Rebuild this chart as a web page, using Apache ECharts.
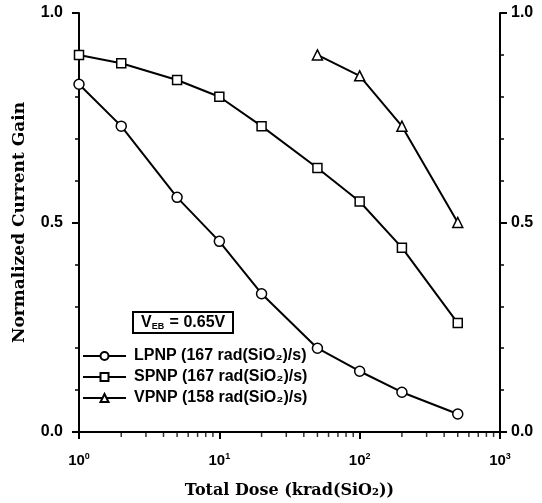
<!DOCTYPE html>
<html>
<head>
<meta charset="utf-8">
<script src="https://cdn.jsdelivr.net/npm/echarts@6/dist/echarts.min.js"></script>
<style>html,body{margin:0;padding:0;background:#fff;}#c{width:542px;height:503px;}</style>
</head>
<body>
<div id="c"></div>
<script>
var doseX = [1, 2, 5, 10, 20, 50, 100, 200, 500];
var lpnp = [0.83, 0.73, 0.56, 0.455, 0.33, 0.20, 0.145, 0.095, 0.043];
var spnp = [0.90, 0.88, 0.84, 0.80, 0.73, 0.63, 0.55, 0.44, 0.26];
var vpnpX = [50, 100, 200, 500];
var vpnp = [0.90, 0.85, 0.73, 0.50];
var seriesNames = ['LPNP (167 rad(SiO\u2082)/s)', 'SPNP (167 rad(SiO\u2082)/s)', 'VPNP (158 rad(SiO\u2082)/s)'];
var xMinorTicks = [2,3,4,5,6,7,8,9,20,30,40,50,60,70,80,90,200,300,400,500,600,700,800,900];
var xTitle = 'Total Dose (krad(SiO\u2082))';
var yTitle = 'Normalized Current Gain';
var boxText = ['V', 'EB', ' = 0.65V'];

function pairs(xs, ys) { return xs.map(function (x, i) { return [x, ys[i]]; }); }

var chart = echarts.init(document.getElementById('c'), null, { renderer: 'canvas' });
var sans = 'Liberation Sans';
var serif = 'DejaVu Serif';
var mk = { color: '#fff', borderColor: '#000', borderWidth: 1.5 };

function yAxisCfg(pos) {
  return {
    type: 'value', position: pos, min: 0, max: 1, interval: 0.5,
    axisLine: { show: true, lineStyle: { color: '#000', width: 2 } },
    axisTick: { show: true, length: 7, lineStyle: { color: '#000', width: 2 } },
    minorTick: { show: true, splitNumber: 5, length: 4, lineStyle: { color: '#000', width: 1.5 } },
    splitLine: { show: false },
    axisLabel: { color: '#000', fontFamily: sans, fontWeight: 'bold', fontSize: 16, margin: pos === 'left' ? 16 : 11,
      formatter: function (v) { return v.toFixed(1); } }
  };
}

var option = {
  backgroundColor: '#fff',
  animation: false,
  grid: { left: 79, right: 42, top: 13, bottom: 71, containLabel: false, outerBoundsMode: 'none' },
  title: {
    text: '{v|' + boxText[0] + '}{s|' + boxText[1] + '}{n|' + boxText[2] + '}',
    left: 133, top: 312,
    borderColor: '#000', borderWidth: 2, padding: [3, 8, 2, 8],
    textStyle: {
      rich: {
        v: { fontFamily: sans, fontWeight: 'bold', fontSize: 16, color: '#000' },
        s: { fontFamily: sans, fontWeight: 'bold', fontSize: 9, color: '#000', verticalAlign: 'bottom', padding: [7, 1, 0, 0] },
        n: { fontFamily: sans, fontWeight: 'bold', fontSize: 16, color: '#000' }
      }
    }
  },
  legend: {
    data: seriesNames,
    orient: 'vertical', left: 82, top: 348,
    itemWidth: 43, itemHeight: 10, itemGap: 5,
    padding: 0,
    textStyle: { fontFamily: sans, fontWeight: 'bold', fontSize: 16, color: '#000', lineHeight: 16, padding: [0, 0, 0, 3] },
    selectedMode: false
  },
  xAxis: [{
    type: 'log', logBase: 10, min: 1, max: 1000, position: 'bottom',
    name: xTitle, nameLocation: 'middle', nameGap: 51,
    nameTextStyle: { fontFamily: serif, fontWeight: 'bold', fontSize: 16, color: '#000' },
    axisLine: { show: true, lineStyle: { color: '#000', width: 2 } },
    axisTick: { show: true, length: 7, lineStyle: { color: '#000', width: 2 } },
    splitLine: { show: false },
    axisLabel: {
      margin: 20,
      formatter: function (v) { return '{b|10}{s|' + Math.round(Math.log10(v)) + '}'; },
      rich: {
        b: { fontFamily: sans, fontWeight: 'bold', fontSize: 15, color: '#000' },
        s: { fontFamily: sans, fontWeight: 'bold', fontSize: 9, color: '#000', verticalAlign: 'top', padding: [0, 0, 8, 0] }
      }
    }
  }, {
    type: 'log', logBase: 10, min: 1, max: 1000, position: 'top',
    axisLine: { show: true, lineStyle: { color: '#000', width: 2 } },
    axisTick: { show: false }, axisLabel: { show: false }, splitLine: { show: false }
  }],
  yAxis: [
    Object.assign(yAxisCfg('left'), {
      name: yTitle, nameLocation: 'middle', nameGap: 51,
      nameTextStyle: { fontFamily: serif, fontWeight: 'bold', fontSize: 17, color: '#000' }
    }),
    yAxisCfg('right')
  ],
  series: [
    { name: seriesNames[0], type: 'line', data: pairs(doseX, lpnp), symbol: 'circle', symbolSize: 10,
      lineStyle: { color: '#000', width: 2 }, itemStyle: mk, z: 3 },
    { name: seriesNames[1], type: 'line', data: pairs(doseX, spnp), symbol: 'rect', symbolSize: 9,
      lineStyle: { color: '#000', width: 2 }, itemStyle: mk, z: 3 },
    { name: seriesNames[2], type: 'line', data: pairs(vpnpX, vpnp), symbol: 'triangle', symbolSize: 10,
      lineStyle: { color: '#000', width: 2 }, itemStyle: mk, z: 3 },
    { name: 'minorTicks', type: 'scatter', data: xMinorTicks.map(function (x) { return [x, 0]; }),
      symbol: 'rect', symbolSize: [1.5, 4], symbolOffset: [0, 3], clip: false, silent: true,
      itemStyle: { color: '#000' }, z: 1 }
  ]
};
chart.setOption(option);
</script>
</body>
</html>
